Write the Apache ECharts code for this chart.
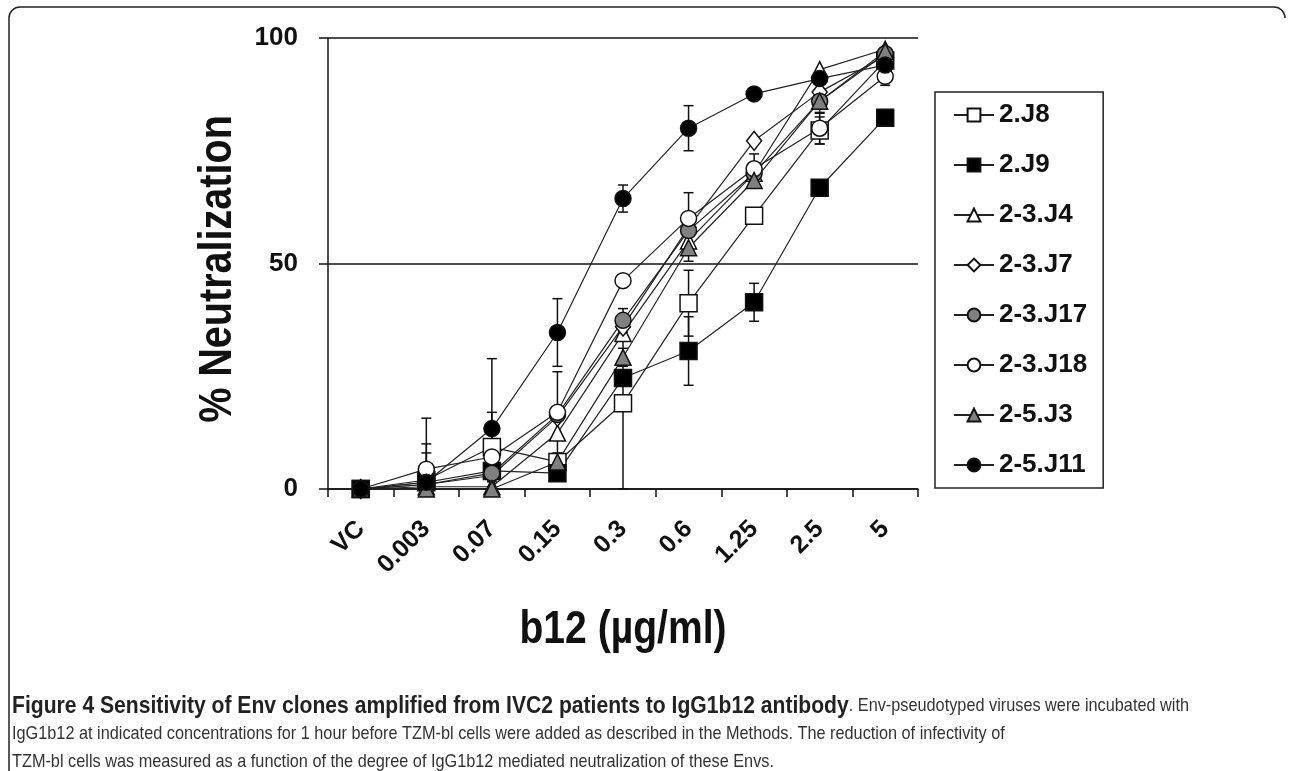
<!DOCTYPE html>
<html>
<head>
<meta charset="utf-8">
<title>b12 neutralization</title>
<script src="https://cdn.jsdelivr.net/npm/echarts@6/dist/echarts.min.js"></script>
<style>
  html, body { margin: 0; padding: 0; background: #fff; }
  #chart { width: 1290px; height: 771px; }
</style>
</head>
<body>
<div id="chart"></div>
<script>
  // concentrations of b12 (x categories)
  var categories = ['VC', '0.003', '0.07', '0.15', '0.3', '0.6', '1.25', '2.5', '5'];

  // % neutralization per clone
  var j8  = [0, 2,   9.3, 6,    19,   41.2, 60.6, 79.5, 95];
  var j9  = [0, 1.5, 4,   3.5,  24.6, 30.6, 41.4, 66.8, 82.3];
  var j4  = [0, 0.5, 0.5, 12.4, 34.5, 55,   70,   93,   97.5];
  var j7  = [0, 1,   3,   16,   36,   58,   77.2, 88,   96];
  var j17 = [0, 1,   3.5, 16.5, 37.4, 57.3, 70,   86,   96.5];
  var j18 = [0, 4.4, 7.1, 17,   46.2, 60,   71,   80,   91.5];
  var j3  = [0, 0,   0,   6,    29.2, 53.5, 68.4, 86,   97];
  var j11 = [0, 1.5, 13.4, 34.7, 64.4, 80,  87.6, 91,   94];

  // error bar half widths (0 = none drawn)
  var j8Err  = [0, 8,    7.7, 0,   19, 7.3, 0,   3,   0];
  var j9Err  = [0, 0,    0,   0,   0,  7.6, 4.2, 0,   0];
  var j17Err = [0, 0,    0,   0,   2.6, 0,  0,   0,   0];
  var j18Err = [0, 11.3, 0,   9,   0,  5.7, 3.3, 3.5, 2];
  var j3Err  = [0, 0,    0,   0,   2,  3,   0,   2.7, 0];
  var j11Err = [0, 6.5,  15.5, 7.5, 3, 5,   0,   0,   0];

  var names = ['2.J8', '2.J9', '2-3.J4', '2-3.J7', '2-3.J17', '2-3.J18', '2-5.J3', '2-5.J11'];

  var sans = '"Liberation Sans", Arial, sans-serif';
  var chart = echarts.init(document.getElementById('chart'));

  // one clone -> line series
  function lineSeries(name, data, symbol, fill, size) {
    return {
      name: name,
      type: 'line',
      data: data,
      symbol: symbol,
      symbolSize: size || 16,
      showAllSymbol: true,
      lineStyle: { color: '#222', width: 1.2 },
      itemStyle: { color: fill, borderColor: '#111', borderWidth: 1.5 },
      emphasis: { disabled: true },
      z: 3
    };
  }

  function errRender(params, api) {
    var x = api.value(0), v = api.value(1), e = api.value(2);
    var hi = api.coord([x, v + e]);
    var lo = api.coord([x, Math.max(v - e, 0)]);
    var st = { stroke: '#111', lineWidth: 1.5 };
    return {
      type: 'group',
      children: [
        { type: 'line', shape: { x1: hi[0], y1: hi[1], x2: lo[0], y2: lo[1] }, style: st },
        { type: 'line', shape: { x1: hi[0] - 5, y1: hi[1], x2: hi[0] + 5, y2: hi[1] }, style: st },
        { type: 'line', shape: { x1: lo[0] - 5, y1: lo[1], x2: lo[0] + 5, y2: lo[1] }, style: st }
      ]
    };
  }

  function errSeries(vals, errs) {
    var d = [];
    errs.forEach(function (e, i) {
      if (e > 0) d.push([i, vals[i], e]);
    });
    return { type: 'custom', renderItem: errRender, data: d, z: 2, silent: true };
  }

  var caption =
    '{b|Figure 4 Sensitivity of Env clones amplified from IVC2 patients to IgG1b12 antibody}' +
    '{r|. Env-pseudotyped viruses were incubated with}\n' +
    '{r|IgG1b12 at indicated concentrations for 1 hour before TZM-bl cells were added as described in the Methods. The reduction of infectivity of}\n' +
    '{r|TZM-bl cells was measured as a function of the degree of IgG1b12 mediated neutralization of these Envs.}';

  var frame = { fill: 'none', stroke: '#222', lineWidth: 1.5 };

  var option = {
    backgroundColor: '#fff',
    animation: false,
    grid: { left: 328, top: 38, width: 590, height: 451, outerBoundsMode: 'none' },
    legend: {
      orient: 'vertical',
      left: 935,
      top: 92,
      data: names,
      itemWidth: 40,
      itemHeight: 16,
      itemGap: 24,
      padding: [10, 16, 10, 18],
      borderColor: '#222',
      borderWidth: 1.5,
      selectedMode: false,
      textStyle: { fontFamily: sans, fontWeight: 'bold', fontSize: 26, color: '#111' }
    },
    xAxis: {
      type: 'category',
      data: categories,
      boundaryGap: true,
      axisLine: { lineStyle: { color: '#111', width: 1.5 } },
      axisTick: { show: true, length: 8, interval: 0, lineStyle: { color: '#111', width: 1.5 } },
      axisLabel: {
        interval: 0, rotate: 45, margin: 36,
        fontFamily: sans, fontWeight: 'bold', fontSize: 25, color: '#111'
      }
    },
    yAxis: {
      type: 'value',
      min: 0, max: 100, interval: 50,
      axisLine: { show: true, lineStyle: { color: '#111', width: 1.5 } },
      axisTick: { show: true, length: 9, lineStyle: { color: '#111', width: 1.5 } },
      splitLine: { show: true, lineStyle: { color: '#111', width: 1.5 } },
      axisLabel: { margin: 30, fontFamily: sans, fontWeight: 'bold', fontSize: 26, color: '#111' }
    },
    graphic: [
      { type: 'polyline', shape: { points: [[9, 771], [9, 18]] }, style: frame },
      { type: 'polyline', shape: { points: [[20, 7], [1274, 7]] }, style: frame },
      { type: 'arc', shape: { cx: 20, cy: 18, r: 11, startAngle: Math.PI, endAngle: Math.PI * 1.5 }, style: frame },
      { type: 'arc', shape: { cx: 1274, cy: 18, r: 11, startAngle: Math.PI * 1.5, endAngle: Math.PI * 2 }, style: frame },
      {
        type: 'text', x: 218, y: 269, rotation: Math.PI / 2, scaleX: 0.86,
        style: {
          text: '% Neutralization', textAlign: 'center', textVerticalAlign: 'middle',
          fontFamily: sans, fontWeight: 'bold', fontSize: 46, fill: '#111'
        }
      },
      {
        type: 'text', x: 623, y: 630, scaleX: 0.85,
        style: {
          text: 'b12 (µg/ml)', textAlign: 'center', textVerticalAlign: 'middle',
          fontFamily: sans, fontWeight: 'bold', fontSize: 46, fill: '#111'
        }
      },
      {
        type: 'text', x: 12, y: 692, scaleX: 0.88,
        style: {
          text: caption,
          rich: {
            b: { fontFamily: sans, fontWeight: 'bold', fontSize: 24, lineHeight: 28, fill: '#222' },
            r: { fontFamily: sans, fontSize: 18.5, lineHeight: 28, fill: '#333' }
          }
        }
      }
    ],
    series: [
      lineSeries(names[0], j8, 'rect', '#fff', 17),
      lineSeries(names[1], j9, 'rect', '#000', 17),
      lineSeries(names[2], j4, 'triangle', '#fff'),
      lineSeries(names[3], j7, 'diamond', '#fff', [15, 19]),
      lineSeries(names[4], j17, 'circle', '#808080'),
      lineSeries(names[5], j18, 'circle', '#fff'),
      lineSeries(names[6], j3, 'triangle', '#808080'),
      lineSeries(names[7], j11, 'circle', '#000'),
      errSeries(j8, j8Err),
      errSeries(j9, j9Err),
      errSeries(j17, j17Err),
      errSeries(j18, j18Err),
      errSeries(j3, j3Err),
      errSeries(j11, j11Err)
    ]
  };

  chart.setOption(option);
</script>
</body>
</html>
